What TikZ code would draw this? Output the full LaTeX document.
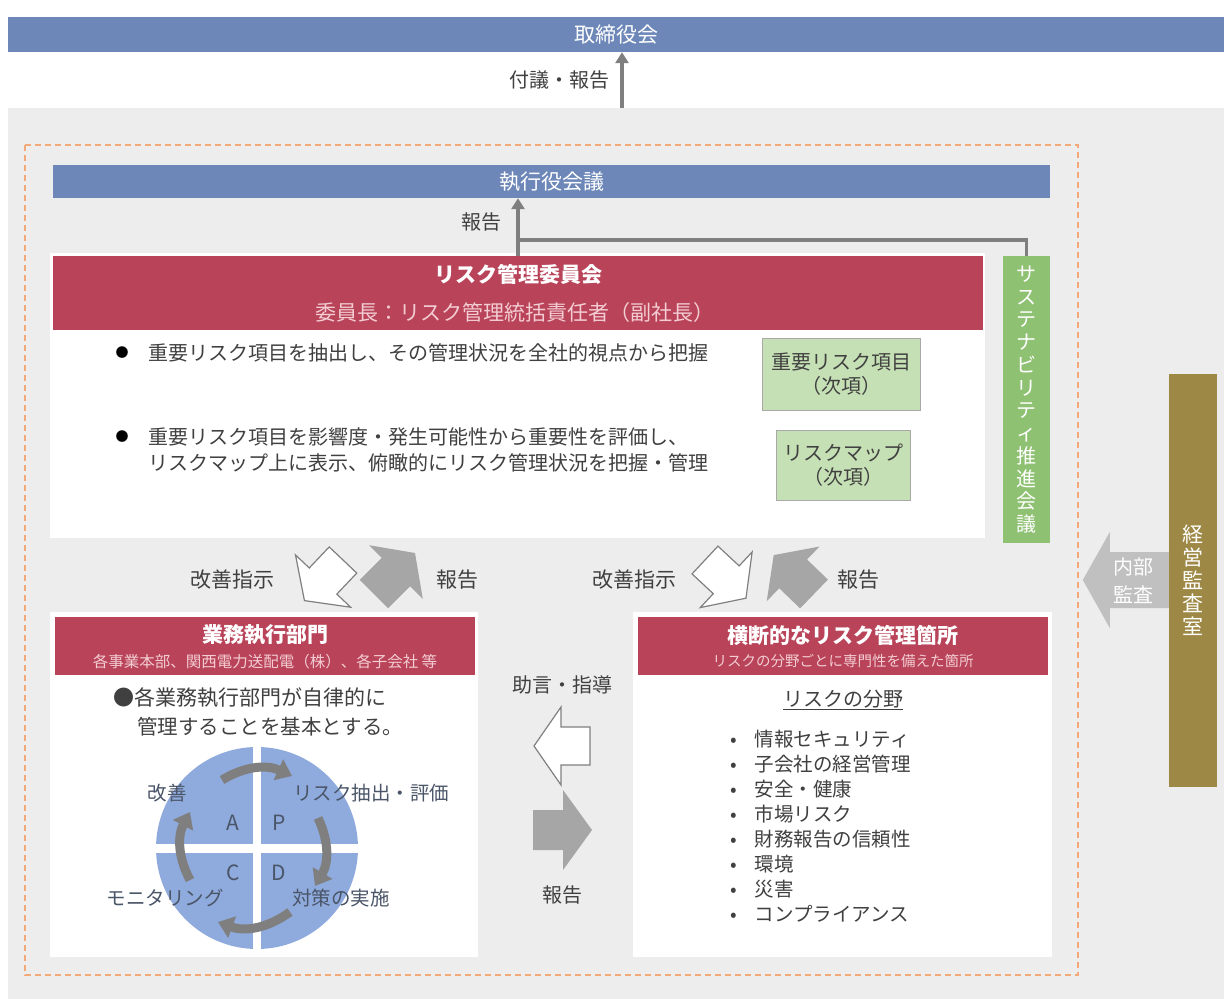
\documentclass[tikz,border=0pt]{standalone}
\usepackage{fontspec}
\setmainfont{Noto Sans CJK JP}
\usepackage{tikz}
\usetikzlibrary{positioning, arrows.meta}

\definecolor{barblue}{HTML}{6C87B8}
\definecolor{bggray}{HTML}{EDEDED}
\definecolor{headred}{HTML}{B94459}
\definecolor{subpink}{HTML}{F3CDD3}
\definecolor{boxgreen}{HTML}{C6E0B5}
\definecolor{boxedge}{HTML}{A9A9A9}
\definecolor{sustgreen}{HTML}{8FC173}
\definecolor{auditgold}{HTML}{9E8846}
\definecolor{auditarrow}{HTML}{C0C0C0}
\definecolor{dashorange}{HTML}{F4AA78}
\definecolor{txtgray}{HTML}{404040}
\definecolor{arrowgray}{HTML}{7F7F7F}
\definecolor{blockgray}{HTML}{A6A6A6}
\definecolor{pdcablue}{HTML}{8FAADC}
\definecolor{pdcatext}{HTML}{4A5568}

\begin{document}
\begin{tikzpicture}[x=1pt, y=-1pt, text=txtgray,
    font=\fontsize{20}{24}\selectfont,
    bar/.style={rectangle, fill=barblue, inner sep=0pt, text=white, font=\fontsize{21}{24}\selectfont},
    redhead/.style={rectangle, fill=headred, inner sep=0pt},
    panel/.style={rectangle, fill=white, inner sep=0pt},
    headtitle/.style={text=white, inner sep=0pt, font=\bfseries\fontsize{21}{24}\selectfont},
    headsub/.style={text=subpink, inner sep=0pt},
    greenbox/.style={rectangle, fill=boxgreen, draw=boxedge, line width=1pt, align=center, inner sep=0pt},
    vtext/.style={align=center, inner sep=0pt, text=white},
    flow/.style={draw=arrowgray, line width=3.5pt, -{Triangle[width=13pt, length=11pt]}},
    cyc/.style={draw=arrowgray, line width=9pt, -{Triangle[width=22pt, length=15pt]}, bend left=28},
    pics/barrow/.style args={#1/#2/#3/#4}{code={
        \path[pic actions] (0,-#2) -- (#1-#4,-#2) -- (#1-#4,-#3) -- (#1,0)
            -- (#1-#4,#3) -- (#1-#4,#2) -- (0,#2) -- cycle;}}]

\useasboundingbox (0,0) rectangle (1224,999);
\fill[white] (0,0) rectangle (1224,999);
\fill[bggray] (8,108) rectangle (1224,999);
\draw[dashorange, line width=2pt, dash pattern=on 6pt off 4pt] (25,145) rectangle (1078,975);

% board and executive meeting
\node[bar, minimum width=1216, minimum height=35] (board) at (616,34.5) {取締役会};
\coordinate (bgtop) at (622,108);
\draw[flow] (bgtop) -- (bgtop |- board.south);
\node[anchor=east, inner sep=0pt] (boardlbl) at (610,80) {付議・報告};

\node[bar, minimum width=997, minimum height=33] (exec) at (551.5,181.5) {執行役会議};

% risk management committee
\node[panel, minimum width=935, minimum height=285] (rmcbody) at (517.5,395.5) {};
\node[redhead, minimum width=930, minimum height=74] (rmchead) at (518,293) {};
\node[headtitle] (rmctitle) at (518,274) {リスク管理委員会};
\node[headsub, font=\fontsize{21}{24}\selectfont] (rmcsub) at (515,313) {委員長：リスク管理統括責任者（副社長）};

\node[inner sep=0pt, font=\fontsize{13}{15}\selectfont, text=black] (b1) at (122,353) {●};
\node[anchor=west, inner sep=0pt] (t1) at (148,353) {重要リスク項目を抽出し、その管理状況を全社的視点から把握};
\node[inner sep=0pt, font=\fontsize{13}{15}\selectfont, text=black] (b2) at (122,437) {●};
\node[anchor=west, align=left, inner sep=0pt, font=\fontsize{20}{26}\selectfont] (t2) at (148,450)
    {重要リスク項目を影響度・発生可能性から重要性を評価し、\\リスクマップ上に表示、俯瞰的にリスク管理状況を把握・管理};

\node[greenbox, minimum width=158, minimum height=72] (keyrisk) at (841,374) {重要リスク項目\\（次項）};
\node[greenbox, minimum width=134, minimum height=70] (riskmap) at (843,465) {リスクマップ\\（次項）};

\coordinate (join) at (518,240);
\draw[flow] (rmchead.north) -- (rmchead.north |- exec.south);
\node[anchor=east, inner sep=0pt] (execlbl) at (502,222) {報告};

% sustainability meeting and audit office
\node[rectangle, fill=sustgreen, minimum width=47, minimum height=287] (sust) at (1026.5,399.5) {};
\node[vtext, font=\fontsize{20}{22.75}\selectfont] (susttxt) at (sust.center)
    {サ\\ス\\テ\\ナ\\ビ\\リ\\テ\\ィ\\推\\進\\会\\議};
\draw[arrowgray, line width=3.5pt] (sust.north) |- (join);

\node[rectangle, fill=auditgold, minimum width=48, minimum height=413] (audit) at (1193,580) {};
\node[vtext, font=\fontsize{21}{23}\selectfont] (audittxt) at (audit.center) {経\\営\\監\\査\\室};
\pic[fill=auditarrow, rotate=180] at (audit.west) {barrow=86/28/48/27};
\node[vtext, font=\fontsize{20}{28}\selectfont] (auditlbl) at (1133,581) {内部\\監査};

% instruction and report arrows
\pic[fill=white, draw=gray, line width=1.2pt, rotate=-133.5] at (343,560) {barrow=56/19/38/27};
\pic[fill=blockgray, rotate=45] at (374,594) {barrow=58/20/38/27};
\pic[fill=white, draw=gray, line width=1.2pt, rotate=-43] at (705,560) {barrow=56/19/38/27};
\pic[fill=blockgray, rotate=136] at (814,594) {barrow=56/20/38/27};
\node[font=\fontsize{21}{24}\selectfont] (inst1) at (232,580) {改善指示};
\node[font=\fontsize{21}{24}\selectfont] (rep1) at (457,580) {報告};
\node[font=\fontsize{21}{24}\selectfont] (inst2) at (634,580) {改善指示};
\node[font=\fontsize{21}{24}\selectfont] (rep2) at (858,580) {報告};

% business execution divisions
\node[panel, minimum width=428, minimum height=345] (bizbody) at (264,784.5) {};
\node[redhead, minimum width=420, minimum height=58] (bizhead) at (265,646) {};
\node[headtitle] (biztitle) at (265,635) {業務執行部門};
\node[headsub, font=\fontsize{15.5}{18}\selectfont] (bizsub) at (265,662) {各事業本部、関西電力送配電（株）、各子会社 等};
\node[anchor=west, inner sep=0pt, font=\fontsize{21}{24}\selectfont] (biz1) at (113,698) {●各業務執行部門が自律的に};
\node[anchor=west, inner sep=0pt, font=\fontsize{20.5}{24}\selectfont] (biz2) at (137,727) {管理することを基本とする。};

\node[circle, fill=pdcablue, minimum size=202, inner sep=0pt] (pdca) at (257,848) {};
\draw[white, line width=8pt] (pdca.north) -- (pdca.south);
\draw[white, line width=9pt] (pdca.west) -- (pdca.east);
\node[text=pdcatext, font=\fontsize{21}{24}\selectfont] (qa) at (233,823) {A};
\node[text=pdcatext, font=\fontsize{21}{24}\selectfont] (qp) at (279,823) {P};
\node[text=pdcatext, font=\fontsize{21}{24}\selectfont] (qc) at (233,873) {C};
\node[text=pdcatext, font=\fontsize{21}{24}\selectfont] (qd) at (279,873) {D};
\coordinate (a1) at (222,780);
\coordinate (a2) at (292,776);
\coordinate (a3) at (318,818);
\coordinate (a4) at (315,886);
\coordinate (a5) at (290,912);
\coordinate (a6) at (218,922);
\coordinate (a7) at (190,880);
\coordinate (a8) at (190,812);
\draw[cyc] (a1) to (a2);
\draw[cyc] (a3) to (a4);
\draw[cyc] (a5) to (a6);
\draw[cyc] (a7) to (a8);
\node[text=pdcatext, inner sep=0pt, font=\fontsize{19.5}{24}\selectfont] (lact) at (167,793) {改善};
\node[text=pdcatext, anchor=west, inner sep=0pt, font=\fontsize{19.5}{24}\selectfont] (lplan) at (293,793) {リスク抽出・評価};
\node[text=pdcatext, inner sep=0pt, font=\fontsize{19.5}{24}\selectfont] (lchk) at (165,898) {モニタリング};
\node[text=pdcatext, anchor=west, inner sep=0pt, font=\fontsize{19.5}{24}\selectfont] (ldo) at (292,898) {対策の実施};

% advice and report between divisions
\node[inner sep=0pt] (advlbl) at (562,685) {助言・指導};
\pic[fill=white, draw=gray, line width=1.2pt, rotate=180] at (590,746) {barrow=56/19/39/27};
\pic[fill=blockgray] at (533,830) {barrow=59/20/40/29};
\node[inner sep=0pt] (replbl) at (562,895) {報告};

% cross-organizational risk management
\node[panel, minimum width=419, minimum height=345] (crossbody) at (842.5,784.5) {};
\node[redhead, minimum width=410, minimum height=58] (crosshead) at (843,646) {};
\node[headtitle] (crosstitle) at (843,635) {横断的なリスク管理箇所};
\node[headsub, font=\fontsize{14.5}{18}\selectfont] (crosssub) at (843,661) {リスクの分野ごとに専門性を備えた箇所};
\node[inner sep=0pt] (fieldhd) at (843,700) {\underline{リスクの分野}};
\node[anchor=west, align=left, inner sep=0pt, font=\fontsize{19.5}{25}\selectfont] (fields) at (730,826)
    {•\hspace{18pt}情報セキュリティ\\•\hspace{18pt}子会社の経営管理\\•\hspace{18pt}安全・健康\\•\hspace{18pt}市場リスク\\•\hspace{18pt}財務報告の信頼性\\•\hspace{18pt}環境\\•\hspace{18pt}災害\\•\hspace{18pt}コンプライアンス};
\end{tikzpicture}
\end{document}
